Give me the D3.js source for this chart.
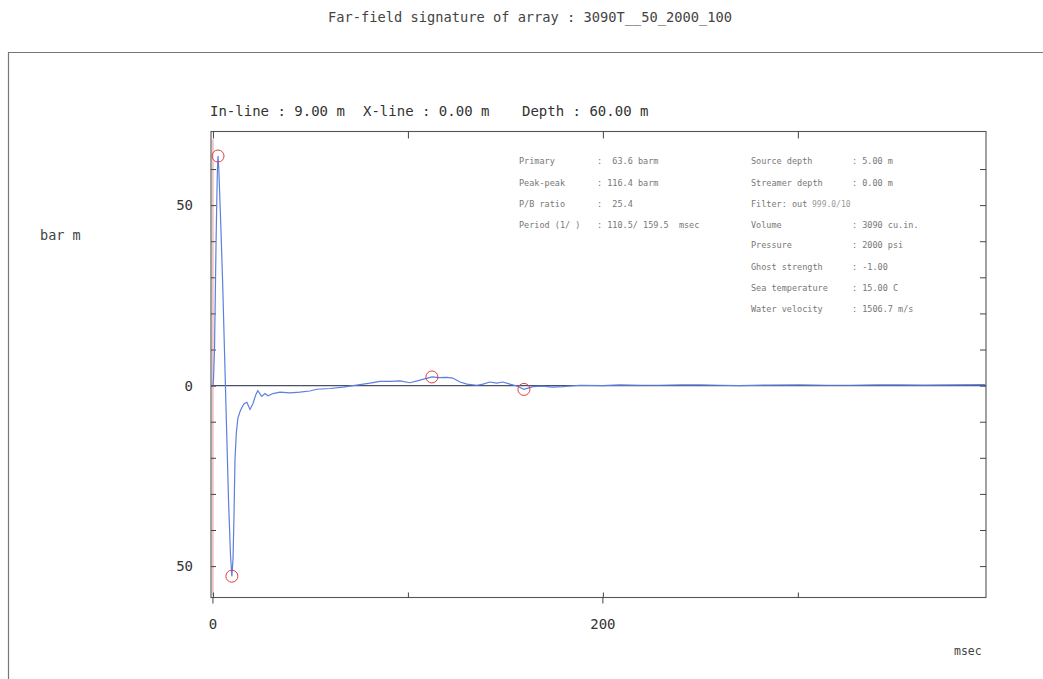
<!DOCTYPE html>
<html>
<head>
<meta charset="utf-8">
<script src="https://cdn.jsdelivr.net/npm/d3@7"></script>
<style>
  html, body { margin: 0; padding: 0; background: #fff; }
  svg text { font-family: "DejaVu Sans Mono", "Liberation Mono", monospace; }
</style>
</head>
<body>
<svg id="chart" width="1043" height="679"></svg>
<script>
// Far-field pressure signature (bar m) against time (msec)
const timeMs = [0, 0.3, 0.8, 1.2, 1.6, 2.0, 2.3, 2.6, 3.0, 4.0, 5.0, 6.0, 7.0, 8.0, 9.0, 9.7,
  10.3, 10.8, 11.3, 12.0, 12.8, 14.0, 14.9, 16.0, 17.4, 19.0, 20.5, 22.0, 23.0, 25.0, 26.7,
  28.2, 30.8, 34.4, 39.5, 44.6, 49.7, 53.3, 60, 66.7, 75.4, 80.5, 85.6, 90.8, 95.9, 101,
  106.2, 112.3, 116, 120, 123, 126.7, 130.3, 135.4, 138.5, 142, 145.6, 148.7, 152.3, 155.9,
  159.5, 164.1, 169.2, 174, 179.5, 188.2, 200, 208.7, 220, 229, 240, 250, 260, 270, 285,
  301, 315, 327, 340, 352, 365, 378, 396];
const pressureBarM = [0, 2, 10, 25, 40, 52, 60, 63.6, 60, 45, 28, 8, -12, -32, -47, -52.8,
  -48, -36, -20.5, -13, -9, -7, -6, -5, -4.6, -6.6, -5, -2.5, -1.4, -3, -2.2,
  -2.8, -2.2, -1.8, -2.0, -1.8, -1.5, -1.0, -0.8, -0.4, 0.3, 0.7, 1.2, 1.2, 1.3, 0.8,
  1.5, 2.4, 2.2, 2.3, 2.1, 1.0, 0.4, 0.1, 0.4, 1.0, 0.7, 1.0, 0.4, -0.1,
  -1.05, -0.3, -0.15, -0.4, -0.3, 0.1, 0.0, 0.2, 0.1, 0.1, 0.2, 0.2, 0.1, 0.0, 0.15,
  0.2, 0.1, 0.1, 0.2, 0.2, 0.15, 0.2, 0.25];

// Picked points: primary peak, trough, first bubble peak, bubble trough
const markerTimes = [2.6, 9.7, 112.3, 159.5];
const markerValues = [63.6, -52.8, 2.4, -1.05];

const yTickValues = [-50, -40, -30, -20, -10, 0, 10, 20, 30, 40, 50, 60];
const yLabelValues = [50, 0, -50];
const yLabelTexts = ["50", "0", "50"];
const xTickValues = [0, 100, 200, 300];
const xLabelValues = [0, 200];
const xLabelTexts = ["0", "200"];

const titleText = "Far-field signature of array : 3090T__50_2000_100";
const positionTexts = ["In-line : 9.00 m", "X-line : 0.00 m", "Depth : 60.00 m"];

const leftInfoLabels = ["Primary", "Peak-peak", "P/B ratio", "Period (1/ )"];
const leftInfoValues = ["  63.6 barm", " 116.4 barm", "  25.4", " 110.5/ 159.5  msec"];
const rightInfoLabels = ["Source depth", "Streamer depth", "Filter: out", "Volume", "Pressure",
  "Ghost strength", "Sea temperature", "Water velocity"];
const rightInfoValues = [" 5.00 m", " 0.00 m", "", " 3090 cu.in.", " 2000 psi",
  " -1.00", " 15.00 C", " 1506.7 m/s"];
const filterText = "999.0/10";

const svg = d3.select("#chart");

const x = d3.scaleLinear().domain([-1.0, 396.5]).range([211, 986]);
const y = d3.scaleLinear().domain([-58.7, 70.4]).range([597.5, 131.5]);

// outer frame
svg.append("path")
  .attr("d", "M8.5,680 L8.5,52.5 L1043,52.5")
  .attr("fill", "none").attr("stroke", "#777").attr("stroke-width", 1.2);

// title
svg.append("text")
  .attr("x", 530).attr("y", 22).attr("text-anchor", "middle")
  .attr("font-size", 13.7).attr("fill", "#444")
  .text(titleText);

// position line
const posX = [210, 363, 522];
svg.selectAll("text.pos").data(positionTexts).join("text")
  .attr("class", "pos")
  .attr("x", (d, i) => posX[i]).attr("y", 116)
  .attr("font-size", 14).attr("fill", "#333")
  .text(d => d);

// y unit label
svg.append("text").attr("x", 40).attr("y", 240)
  .attr("font-size", 13.5).attr("fill", "#444").text("bar m");

// x unit label
svg.append("text").attr("x", 954).attr("y", 655)
  .attr("font-size", 11.5).attr("fill", "#444").text("msec");

const [x0, x1] = x.range();
const [yb, yt] = y.range();

// time-zero marker
svg.append("line")
  .attr("x1", x(0)).attr("x2", x(0)).attr("y1", yt + 8).attr("y2", yb - 2)
  .attr("stroke", "#e79a9a").attr("stroke-width", 1);

// plot frame
svg.append("rect")
  .attr("x", x0).attr("y", yt).attr("width", x1 - x0).attr("height", yb - yt)
  .attr("fill", "none").attr("stroke", "#555").attr("stroke-width", 1.1);

// left axis: inward ticks every 10, labels at 50 / 0 / -50
const leftAxis = d3.axisLeft(y).tickValues(yTickValues).tickSize(-5).tickPadding(18)
  .tickFormat(d => { const k = yLabelValues.indexOf(d); return k >= 0 ? yLabelTexts[k] : ""; });
const gl = svg.append("g").attr("transform", `translate(${x0},0)`).call(leftAxis);
gl.select(".domain").remove();
gl.selectAll("line").attr("stroke", "#444");
gl.selectAll("text").attr("font-size", 14).attr("fill", "#333")
  .attr("font-family", "DejaVu Sans Mono, monospace");

// right axis: inward ticks
const rightAxis = d3.axisRight(y).tickValues(yTickValues).tickSize(-6).tickFormat("");
const gr = svg.append("g").attr("transform", `translate(${x1},0)`).call(rightAxis);
gr.select(".domain").remove();
gr.selectAll("line").attr("stroke", "#444");

// top axis: inward ticks
const topAxis = d3.axisTop(x).tickValues(xTickValues).tickSize(-7).tickFormat("");
const gt = svg.append("g").attr("transform", `translate(0,${yt})`).call(topAxis);
gt.select(".domain").remove();
gt.selectAll("line").attr("stroke", "#444");

// bottom axis: inward ticks, labelled ticks cross the frame
const bottomAxis = d3.axisBottom(x).tickValues(xTickValues).tickSize(-5).tickFormat("");
const gb = svg.append("g").attr("transform", `translate(0,${yb})`).call(bottomAxis);
gb.select(".domain").remove();
gb.selectAll("line").attr("stroke", "#444");
svg.selectAll("line.xcross").data(xLabelValues).join("line")
  .attr("class", "xcross")
  .attr("x1", d => x(d)).attr("x2", d => x(d)).attr("y1", yb).attr("y2", yb + 6)
  .attr("stroke", "#444");
svg.selectAll("text.xlab").data(xLabelValues).join("text")
  .attr("class", "xlab")
  .attr("x", d => x(d)).attr("y", 629).attr("text-anchor", "middle")
  .attr("font-size", 14).attr("fill", "#333")
  .text((d, i) => xLabelTexts[i]);

// zero line
svg.append("line")
  .attr("x1", x0).attr("x2", x1).attr("y1", y(0)).attr("y2", y(0))
  .attr("stroke", "#4a5068").attr("stroke-width", 1.3);

// signature curve
const sig = timeMs.map((t, i) => [t, pressureBarM[i]]);
svg.append("path")
  .datum(sig)
  .attr("fill", "none").attr("stroke", "#5c7fe0").attr("stroke-width", 1.2)
  .attr("d", d3.line().x(d => x(d[0])).y(d => y(d[1])));

// picked-point circles
svg.selectAll("circle.pick").data(markerTimes).join("circle")
  .attr("class", "pick")
  .attr("cx", d => x(d)).attr("cy", (d, i) => y(markerValues[i])).attr("r", 6)
  .attr("fill", "none").attr("stroke", "#e04040").attr("stroke-width", 1);

// source info block
const infoFont = 8.5, infoFill = "#777";
const leftRows = [164, 186, 207, 228];
leftInfoLabels.forEach((lab, i) => {
  svg.append("text").attr("x", 519).attr("y", leftRows[i]).attr("font-size", infoFont)
    .attr("fill", infoFill).text(lab);
  svg.append("text").attr("x", 597).attr("y", leftRows[i]).attr("font-size", infoFont)
    .attr("fill", infoFill).attr("xml:space", "preserve").text(":" + leftInfoValues[i]);
});
const rightRows = [164, 186, 207, 228, 248, 270, 291, 312];
rightInfoLabels.forEach((lab, i) => {
  svg.append("text").attr("x", 751).attr("y", rightRows[i]).attr("font-size", infoFont)
    .attr("fill", infoFill).text(lab);
  if (rightInfoValues[i] !== "") {
    svg.append("text").attr("x", 852).attr("y", rightRows[i]).attr("font-size", infoFont)
      .attr("fill", infoFill).attr("xml:space", "preserve").text(":" + rightInfoValues[i]);
  } else {
    svg.append("text").attr("x", 812).attr("y", rightRows[i]).attr("font-size", infoFont - 0.5)
      .attr("fill", "#999").text(filterText);
  }
});
</script>
</body>
</html>
